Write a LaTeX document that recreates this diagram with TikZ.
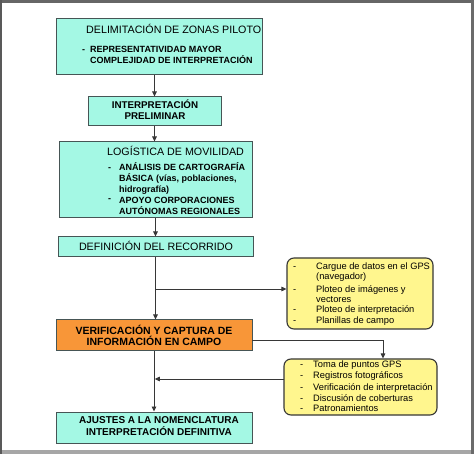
\documentclass[tikz,border=0pt]{standalone}
\usepackage{fontspec}
\setmainfont{Liberation Sans}
\usetikzlibrary{arrows.meta}
\definecolor{aqua}{RGB}{164,248,228}
\definecolor{orng}{RGB}{248,150,56}
\definecolor{yel}{RGB}{255,246,142}
\definecolor{edge}{RGB}{70,85,85}
\definecolor{ln}{RGB}{55,55,55}
\tikzset{
  box/.style={draw=edge, line width=1pt, fill=aqua, inner sep=0pt},
  obox/.style={draw=edge, line width=1pt, fill=orng, inner sep=0pt},
  ybox/.style={draw=ln, line width=1.1pt, fill=yel, rounded corners=7pt, inner sep=0pt},
  ttl/.style={font=\fontsize{10.7}{12}\selectfont, inner sep=0pt, anchor=base west},
  itm/.style={font=\bfseries\fontsize{9}{11}\selectfont, inner sep=0pt, anchor=base west},
  ytx/.style={font=\fontsize{9.3}{11}\selectfont, inner sep=0pt, anchor=base west},
  arr/.style={draw=ln, line width=0.9pt, -{Triangle[length=5pt,width=4.5pt]}},
  lin/.style={draw=ln, line width=0.9pt}
}
\begin{document}
\begin{tikzpicture}[x=1pt,y=-1pt]
\useasboundingbox (0,0) rectangle (474,454);
\fill[white] (0,0) rectangle (474,454);
% frame
\fill[black!60] (0,0) rectangle (474,3);
\fill[black!58] (471,0) rectangle (474,454);
\fill[black!65] (0,0) rectangle (1.5,454);
\fill[black!35] (1.5,450) rectangle (471,454);

% boxes
\node[box, minimum width=206pt, minimum height=56pt] (b1) at (159,47) {};
\node[box, minimum width=133pt, minimum height=29pt] (b2) at (154.5,111.5) {};
\node[box, minimum width=193pt, minimum height=76pt] (b3) at (155.5,180) {};
\node[box, minimum width=195pt, minimum height=20pt] (b4) at (155.5,247) {};
\node[obox, minimum width=196pt, minimum height=31pt] (b5) at (154,335.5) {};
\node[box, minimum width=196pt, minimum height=31pt] (b6) at (154,427.5) {};
\node[ybox, minimum width=146pt, minimum height=71pt] (y1) at (360,293.5) {};
\node[ybox, minimum width=153pt, minimum height=56pt] (y2) at (360.5,387) {};

% box 1 text
\node[ttl] (t1) at (86,33.8) {DELIMITACIÓN DE ZONAS PILOTO};
\node[itm] (t1d) at (82,52.2) {-};
\node[itm] (t1a) at (90,52.2) {REPRESENTATIVIDAD MAYOR};
\node[itm] (t1b) at (90,63.2) {COMPLEJIDAD DE INTERPRETACIÓN};
% box 2 text
\node[itm, anchor=base, font=\bfseries\fontsize{9.8}{11}\selectfont] (t2a) at (155,108.5) {INTERPRETACIÓN};
\node[itm, anchor=base, font=\bfseries\fontsize{9.8}{11}\selectfont] (t2b) at (155,119.5) {PRELIMINAR};
% box 3 text
\node[ttl] (t3) at (107,155.8) {LOGÍSTICA DE MOVILIDAD};
\node[itm] (t3d1) at (108,170.2) {-};
\node[itm] (t3a) at (119,170.2) {ANÁLISIS DE CARTOGRAFÍA};
\node[itm] (t3b) at (119,181.2) {BÁSICA (vías, poblaciones,};
\node[itm] (t3c) at (119,192.2) {hidrografía)};
\node[itm] (t3d2) at (108,201.2) {-};
\node[itm] (t3e) at (119,203.2) {APOYO CORPORACIONES};
\node[itm] (t3f) at (119,214.2) {AUTÓNOMAS REGIONALES};
% box 4 text
\node[ttl, anchor=base] (t4) at (156,250.8) {DEFINICIÓN DEL RECORRIDO};
% box 5 text
\node[itm, anchor=base, font=\bfseries\fontsize{10.5}{12}\selectfont] (t5a) at (154,334.8) {VERIFICACIÓN Y CAPTURA DE};
\node[itm, anchor=base, font=\bfseries\fontsize{10.5}{12}\selectfont] (t5b) at (154,345.8) {INFORMACIÓN EN CAMPO};
% box 6 text
\node[itm, anchor=base, font=\bfseries\fontsize{10}{12}\selectfont] (t6a) at (159,423.6) {AJUSTES A LA NOMENCLATURA};
\node[itm, anchor=base, font=\bfseries\fontsize{10}{12}\selectfont] (t6b) at (159,435.2) {INTERPRETACIÓN DEFINITIVA};

% yellow 1 text
\node[ytx] (y1d1) at (293,269.3) {-};
\node[ytx] (y1a) at (316,269.3) {Cargue de datos en el GPS};
\node[ytx] (y1b) at (316,279.3) {(navegador)};
\node[ytx] (y1d2) at (293,292.3) {-};
\node[ytx] (y1c) at (316,292.3) {Ploteo de imágenes y};
\node[ytx] (y1e) at (316,302.3) {vectores};
\node[ytx] (y1d3) at (293,312.3) {-};
\node[ytx] (y1f) at (316,312.3) {Ploteo de interpretación};
\node[ytx] (y1d4) at (293,323.3) {-};
\node[ytx] (y1g) at (316,323.3) {Planillas de campo};

% yellow 2 text
\node[ytx] (y2d1) at (300,367.3) {-};
\node[ytx] (y2a) at (313,367.3) {Toma de puntos GPS};
\node[ytx] (y2d2) at (300,378.3) {-};
\node[ytx] (y2b) at (313,378.3) {Registros fotográficos};
\node[ytx] (y2d3) at (300,390.3) {-};
\node[ytx] (y2c) at (313,390.3) {Verificación de interpretación};
\node[ytx] (y2d4) at (300,401.3) {-};
\node[ytx] (y2e) at (313,401.3) {Discusión de coberturas};
\node[ytx] (y2d5) at (300,411.3) {-};
\node[ytx] (y2f) at (313,411.3) {Patronamientos};

% connectors
\draw[arr] (b1.south -| b2.north) -- (b2.north);
\draw[arr] (b2.south) -- (b2.south |- b3.north);
\draw[arr] (b3.south) -- (b4.north);
\draw[arr] (b4.south) -- (b4.south |- b5.north);
\coordinate (j1) at (155.5,289);
\draw[arr] (j1) -- (j1 -| y1.west);
\coordinate (k1) at (252,340);
\coordinate (k2) at (383,340);
\draw[arr] (k1) -- (k2) -- (k2 |- y2.north);
\coordinate (r1) at (284,379);
\draw[arr] (r1) -- ([xshift=0.8pt]r1 -| b5.south);
\draw[arr] (b5.south) -- (b6.north);
\end{tikzpicture}
\end{document}
